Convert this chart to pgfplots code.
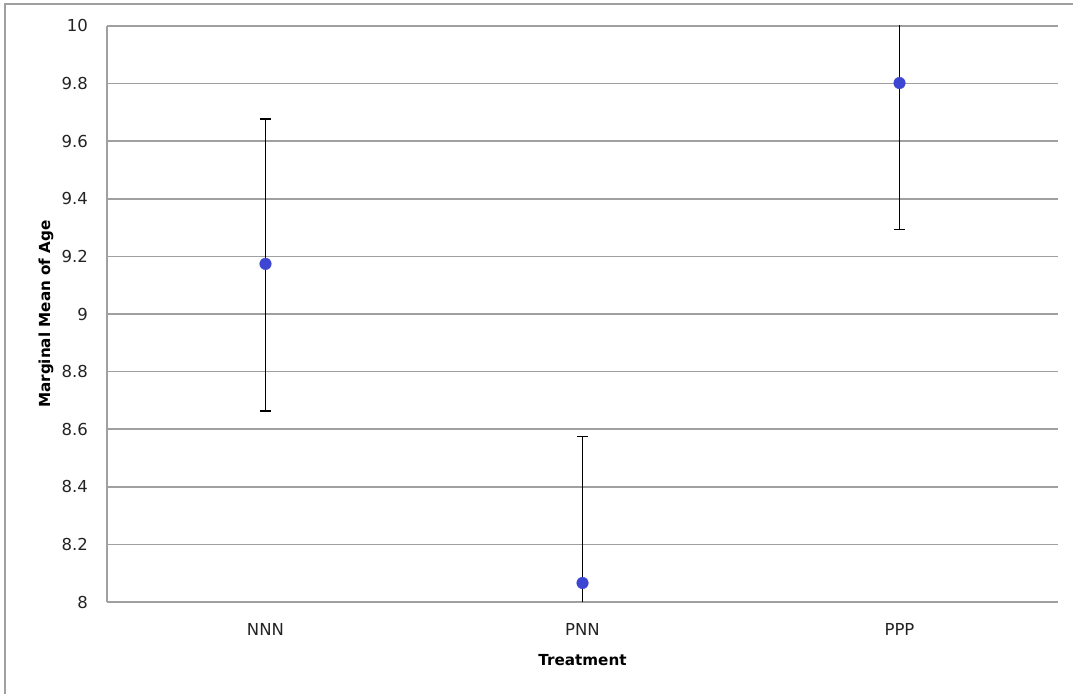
\documentclass[border=0pt]{standalone}
\usepackage{fontspec}
\setmainfont{DejaVu Sans}
\usepackage{pgfplots}
\pgfplotsset{compat=1.18}
\definecolor{gridc}{RGB}{160,160,160}
\definecolor{ptc}{RGB}{60,70,210}
\definecolor{txt}{RGB}{35,35,35}
\begin{document}
\fontsize{14.5bp}{17bp}\selectfont
\begin{tikzpicture}
\useasboundingbox (0,0) rectangle (1073bp,694bp);
\draw[gridc, line width=1.6bp] (5bp,0) -- (5bp,690bp) -- (1073bp,690bp);
\begin{axis}[
  at={(107bp,92bp)}, anchor=south west,
  width=951bp, height=576bp, scale only axis,
  xmin=0.5, xmax=3.5, ymin=8, ymax=10,
  xtick={1,2,3}, xticklabels={NNN,PNN,PPP},
  ytick={8,8.2,8.4,8.6,8.8,9,9.2,9.4,9.6,9.8,10},
  ymajorgrids, grid style={gridc, line width=1.6bp},
  axis x line*=bottom, axis y line*=left,
  axis line style={gridc, line width=1.6bp, -},
  major tick length=0pt,
  /pgf/number format/assume math mode=true,
  tick label style={font=\fontsize{16.5bp}{19bp}\selectfont, text=txt},
  yticklabel style={anchor=east, xshift=-14bp},
  xticklabel style={anchor=north, yshift=-16bp},
  xlabel={Treatment}, ylabel={Marginal Mean of Age},
  label style={font=\fontsize{15.2bp}{18bp}\selectfont\bfseries, text=black},
  xlabel style={at={(axis description cs:0.5,-0.1007)}, anchor=center},
  ylabel style={at={(axis description cs:-0.0641,0.5)}, anchor=center},
]
\addplot[only marks, mark=*, mark size=5.8bp, color=ptc,
  error bars/.cd, y dir=both, y explicit,
  error bar style={black, line width=1.5bp},
  error mark options={rotate=90, mark size=5.5bp, black, line width=1.5bp}]
  table[x=x, y=y, y error plus=ep, y error minus=em] {
x y ep em
1 9.174 0.503 0.511
2 8.066 0.509 0.511
3 9.802 0.509 0.509
};
\end{axis}
\end{tikzpicture}
\end{document}
